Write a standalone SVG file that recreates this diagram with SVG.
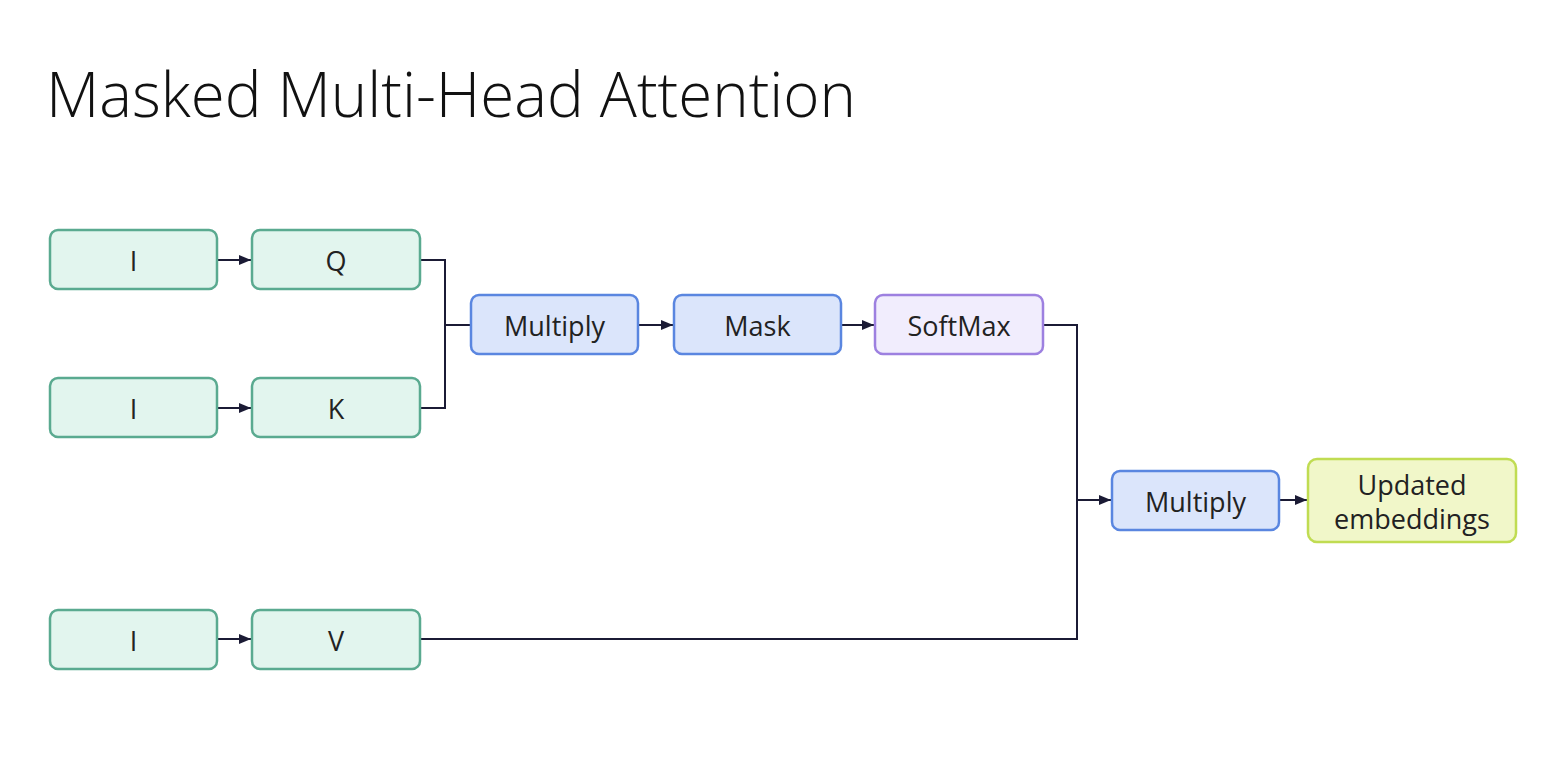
<svg xmlns="http://www.w3.org/2000/svg" width="1557" height="784" viewBox="0 0 1557 784">
<style>
.n rect{stroke-width:2.5}
.g rect{fill:#e2f5ee;stroke:#5aaa90}
.b rect{fill:#dbe5fb;stroke:#5a86e0}
.p rect{fill:#f1edfd;stroke:#9d80e0}
.y rect{fill:#f1f7c9;stroke:#c0dc52}
.n text{font-family:"Open Sans",sans-serif;font-size:27px;fill:#222;text-anchor:middle;dominant-baseline:central}
.c{fill:none;stroke:#1b1b35;stroke-width:2}
</style>
<defs>
<marker id="ah" viewBox="0 0 12 10" refX="12" refY="5" markerWidth="12" markerHeight="10" markerUnits="userSpaceOnUse" orient="auto"><path d="M0,0 L12,5 L0,10 z" fill="#1b1b35"/></marker>
</defs>
<rect width="1557" height="784" fill="#fff"/>
<text x="46" y="117" font-family="Open Sans, sans-serif" font-weight="300" font-size="62" fill="#111" textLength="810" lengthAdjust="spacingAndGlyphs">Masked Multi-Head Attention</text>
<g id="connectors">
<path class="c" d="M217,260 L251,260" marker-end="url(#ah)"/>
<path class="c" d="M217,408 L251,408" marker-end="url(#ah)"/>
<path class="c" d="M217,639 L251,639" marker-end="url(#ah)"/>
<path class="c" d="M420,260 L445,260 L445,408 L420,408"/>
<path class="c" d="M445,325 L471,325"/>
<path class="c" d="M638,325 L673,325" marker-end="url(#ah)"/>
<path class="c" d="M841,325 L874,325" marker-end="url(#ah)"/>
<path class="c" d="M1043,325 L1077,325 L1077,639 L420,639"/>
<path class="c" d="M1077,500 L1111,500" marker-end="url(#ah)"/>
<path class="c" d="M1279,500 L1307,500" marker-end="url(#ah)"/>
</g>
<g id="i1" class="n g"><rect x="50" y="230" width="167" height="59" rx="8"/><text x="133.5" y="260">I</text></g>
<g id="q" class="n g"><rect x="252" y="230" width="168" height="59" rx="8"/><text x="336" y="260">Q</text></g>
<g id="i2" class="n g"><rect x="50" y="378" width="167" height="59" rx="8"/><text x="133.5" y="408">I</text></g>
<g id="k" class="n g"><rect x="252" y="378" width="168" height="59" rx="8"/><text x="336" y="408">K</text></g>
<g id="i3" class="n g"><rect x="50" y="610" width="167" height="59" rx="8"/><text x="133.5" y="640">I</text></g>
<g id="v" class="n g"><rect x="252" y="610" width="168" height="59" rx="8"/><text x="336" y="640">V</text></g>
<g id="multiply1" class="n b"><rect x="471" y="295" width="167" height="59" rx="8"/><text x="554.5" y="325">Multiply</text></g>
<g id="mask" class="n b"><rect x="674" y="295" width="167" height="59" rx="8"/><text x="757.5" y="325">Mask</text></g>
<g id="softmax" class="n p"><rect x="875" y="295" width="168" height="59" rx="8"/><text x="959" y="325">SoftMax</text></g>
<g id="multiply2" class="n b"><rect x="1112" y="471" width="167" height="59" rx="8"/><text x="1195.5" y="501">Multiply</text></g>
<g id="updated" class="n y"><rect x="1308" y="459" width="208" height="83" rx="9"/><text x="1412" y="484">Updated</text><text x="1412" y="518">embeddings</text></g>
</svg>
